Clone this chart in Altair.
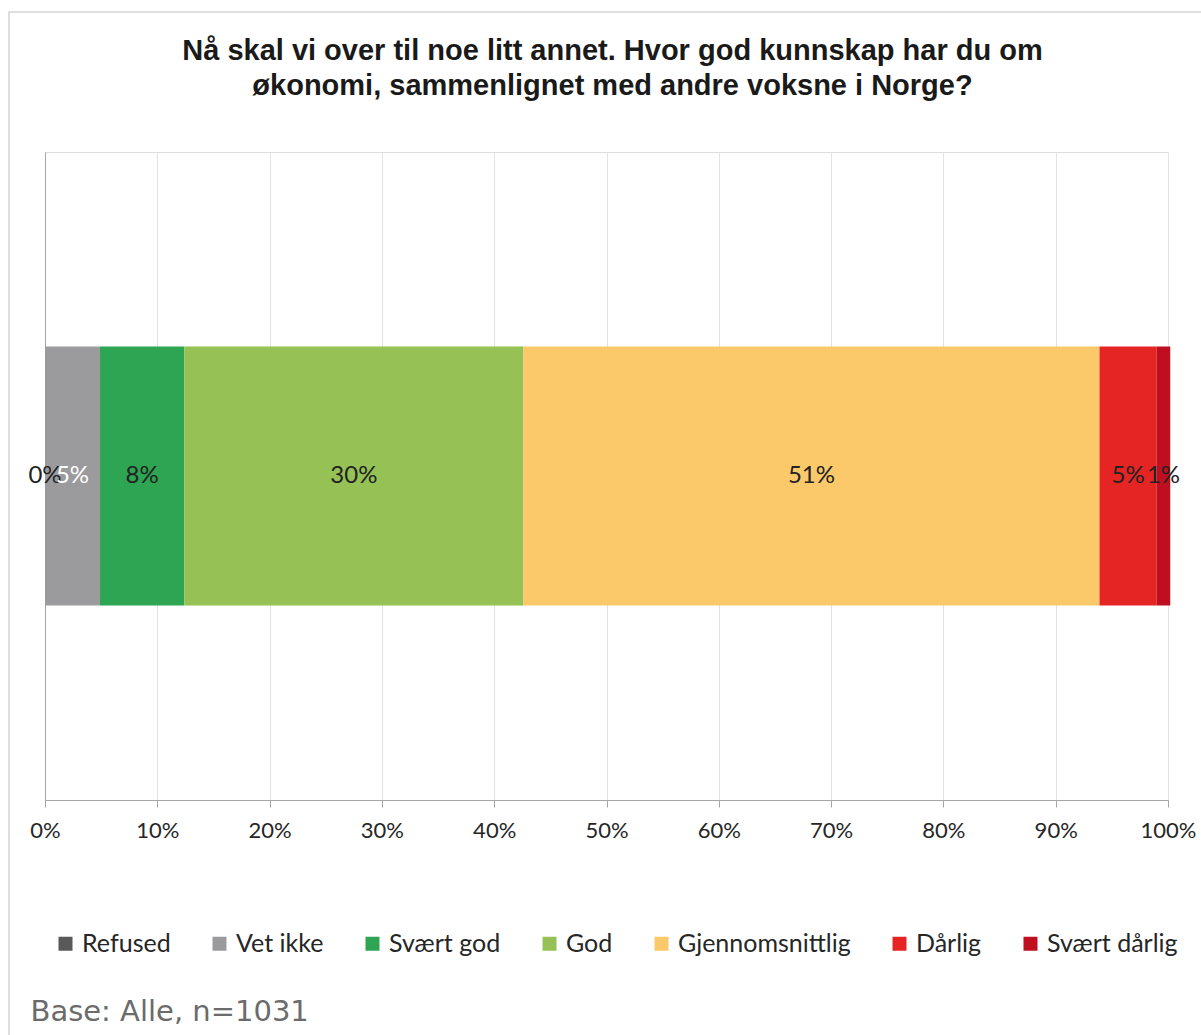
import altair as alt
import pandas as pd

categories = ["Refused", "Vet ikke", "Svært god", "God", "Gjennomsnittlig", "Dårlig", "Svært dårlig"]
values = [0.000, 0.049, 0.075, 0.302, 0.513, 0.051, 0.012]
labels = ["0%", "5%", "8%", "30%", "51%", "5%", "1%"]
colors = ["#595959", "#9b9b9e", "#2ea552", "#95c155", "#fbc96a", "#e52524", "#be0e1f"]
x_ticks = [0, 0.1, 0.2, 0.3, 0.4, 0.5, 0.6, 0.7, 0.8, 0.9, 1.0]
title_lines = ["Nå skal vi over til noe litt annet. Hvor god kunnskap har du om",
               "økonomi, sammenlignet med andre voksne i Norge?"]
base_note = "Base: Alle, n=1031"

df = pd.DataFrame({
    "q": ["Q"] * len(categories),
    "category": categories,
    "value": values,
    "label": labels,
    "order": list(range(len(categories))),
})

base = alt.Chart(df).transform_stack(
    stack="value", groupby=["q"], as_=["x0", "x1"], sort=[alt.SortField("order")]
).transform_calculate(mid="(datum.x0 + datum.x1) / 2")

y_enc = alt.Y("q:N", axis=alt.Axis(labels=False, ticks=False, title=None, grid=False,
                                   domainColor="#a6a6a6"),
              scale=alt.Scale(paddingOuter=0.75, paddingInner=0))

bars = base.mark_bar().encode(
    x=alt.X("x0:Q", scale=alt.Scale(domain=[0, 1], nice=False),
            axis=alt.Axis(format="%", values=x_ticks, grid=True, gridColor="#e3e3e3",
                          domainColor="#a6a6a6", tickColor="#a6a6a6", tickSize=7,
                          labelFont="Lato", labelFontSize=22, labelColor="#262626",
                          labelPadding=13, labelFlush=False, labelOverlap=False,
                          title=base_note, titleX=-15, titleY=220, titleAlign="left",
                          titleAnchor="start", titleBaseline="alphabetic",
                          titleFont="DejaVu Sans", titleFontSize=29,
                          titleFontWeight="normal", titleColor="#6b6b6b")),
    x2="x1:Q",
    y=y_enc,
    color=alt.Color("category:N", scale=alt.Scale(domain=categories, range=colors),
                    legend=alt.Legend(orient="none", legendX=8, legendY=779,
                                      direction="horizontal", columns=7, title=None,
                                      padding=0, labelLimit=300,
                                      symbolType="square", symbolSize=196,
                                      symbolStrokeWidth=0, labelFont="Lato",
                                      labelFontSize=25, labelColor="#262626",
                                      labelOffset=4, columnPadding=36)),
)

texts = base.mark_text(font="Lato", fontSize=24).encode(
    x="mid:Q",
    y="q:N",
    text="label:N",
    color=alt.condition(alt.datum.category == "Vet ikke", alt.value("white"), alt.value("#222222")),
)

border = alt.Chart(pd.DataFrame({"a": [0]})).mark_rect(
    filled=False, stroke="#d4d4d4", strokeWidth=1.5
).encode(x=alt.value(-36), x2=alt.value(1170), y=alt.value(-140), y2=alt.value(900))

chart = alt.layer(border, bars, texts).properties(
    width=1123, height=648,
    autosize=alt.AutoSizeParams(type="none"),
    padding={"left": 45, "top": 152, "right": 33, "bottom": 235},
    title=alt.TitleParams(title_lines, font="Liberation Sans", fontSize=29,
                          fontWeight="bold", anchor="middle", frame="group",
                          offset=-90, dx=6, color="#1a1a1a", lineHeight=35),
).configure_view(stroke=None).configure(background="white")

chart.save("out.html", embed_options={"renderer": "svg", "actions": False})
